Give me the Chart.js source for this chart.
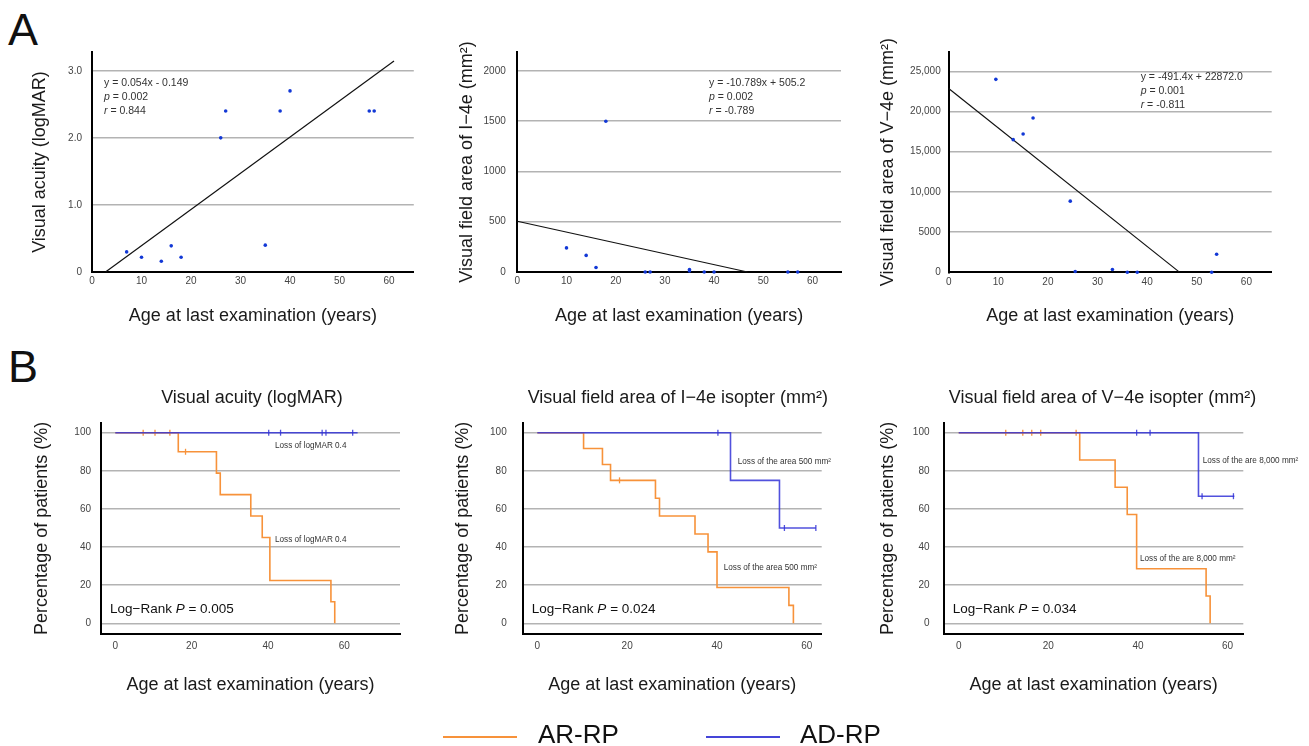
<!DOCTYPE html>
<html>
<head>
<meta charset="utf-8">
<script src="https://cdn.jsdelivr.net/npm/chart.js@4"></script>
<style>
  body { margin: 0; background: #fff; }
  #wrap { position: relative; width: 1309px; height: 746px; overflow: hidden; font-family: "Liberation Sans", Arial, sans-serif; }
  canvas { position: absolute; left: 0; top: 0; }
  .letter { position: absolute; left: 8px; font-size: 45px; line-height: 45px; color: #111; }
  .key { position: absolute; font-size: 26px; line-height: 26px; color: #111; }
  .swatch { position: absolute; height: 2px; }
</style>
</head>
<body>
<div id="wrap">
  <div class="letter" style="top:7px">A</div>
  <div class="letter" style="top:344px">B</div>
  <canvas id="a1" width="1309" height="746"></canvas>
  <canvas id="a2" width="1309" height="746"></canvas>
  <canvas id="a3" width="1309" height="746"></canvas>
  <canvas id="b1" width="1309" height="746"></canvas>
  <canvas id="b2" width="1309" height="746"></canvas>
  <canvas id="b3" width="1309" height="746"></canvas>
  <div class="swatch" style="left:443px;top:736px;width:74px;background:#f7923a"></div>
  <div class="key" style="left:538px;top:721px">AR-RP</div>
  <div class="swatch" style="left:706px;top:736px;width:74px;background:#4545d8"></div>
  <div class="key" style="left:800px;top:721px">AD-RP</div>
</div>
<script>
// A: values at last examination
const vaAge = [7, 10, 14, 16, 18, 26, 27, 35, 38, 40, 56, 57];
const vaLogMAR = [0.3, 0.22, 0.16, 0.39, 0.22, 2.0, 2.4, 0.4, 2.4, 2.7, 2.4, 2.4];
const i4eAge = [10, 14, 16, 18, 26, 27, 35, 35, 38, 40, 55, 57];
const i4eArea = [240, 165, 45, 1500, 0, 0, 25, 10, 0, 0, 0, 0];
const v4eAge = [9.5, 13, 15, 17, 24.5, 25.5, 33, 36, 38, 53, 54];
const v4eArea = [24000, 16500, 17200, 19200, 8850, 100, 350, 0, 0, 0, 2250];

// regression: [slope, intercept] and drawn x range
const vaFit = [0.054, -0.149];
const i4eFit = [-10.789, 505.2];
const v4eFit = [-491.4, 22872.0];
const vaFitX = [2.8, 61];
const i4eFitX = [0, 46.8];
const v4eFitX = [0, 46.5];

// B: Kaplan-Meier steps (age, % remaining) and censored cases
const vaArTime = [0, 16.5, 26.5, 27.5, 35.5, 38.5, 40.5, 56.5, 57.5];
const vaArPct = [100, 90, 78.8, 67.5, 56.3, 45, 22.5, 11.3, 0];
const vaArCensAge = [7.3, 10.4, 14.3, 18.4];
const vaArCensPct = [100, 100, 100, 90];
const vaAdTime = [0, 63.5];
const vaAdPct = [100, 100];
const vaAdCensAge = [40.2, 43.3, 54.2, 55.2, 62.2];
const vaAdCensPct = [100, 100, 100, 100, 100];

const i4eArTime = [0, 10.3, 14.5, 16.3, 26.3, 27.2, 35.1, 38, 40, 56, 57];
const i4eArPct = [100, 91.7, 83.3, 75, 65.6, 56.3, 46.9, 37.5, 18.8, 9.4, 0];
const i4eArCensAge = [18.3];
const i4eArCensPct = [75];
const i4eAdTime = [0, 43, 53.9, 62];
const i4eAdPct = [100, 75, 50, 50];
const i4eAdCensAge = [40.2, 55, 62];
const i4eAdCensPct = [100, 50, 50];

const v4eArTime = [0, 27, 34.9, 37.6, 39.7, 55.2, 56.1];
const v4eArPct = [100, 85.7, 71.4, 57.1, 28.6, 14.3, 0];
const v4eArCensAge = [10.5, 14.3, 16.3, 18.3, 26.2];
const v4eArCensPct = [100, 100, 100, 100, 100];
const v4eAdTime = [0, 53.5, 61.5];
const v4eAdPct = [100, 66.7, 66.7];
const v4eAdCensAge = [39.7, 42.7, 54.3, 61.3];
const v4eAdCensPct = [100, 100, 66.7, 66.7];

// ticks
const ageTicksA = [0, 10, 20, 30, 40, 50, 60];
const ageTicksB = [0, 20, 40, 60];
const vaTicks = [0, 1, 2, 3];
const vaTickLabels = ["0", "1.0", "2.0", "3.0"];
const i4eTicks = [0, 500, 1000, 1500, 2000];
const i4eTickLabels = ["0", "500", "1000", "1500", "2000"];
const v4eTicks = [0, 5000, 10000, 15000, 20000, 25000];
const v4eTickLabels = ["0", "5000", "10,000", "15,000", "20,000", "25,000"];
const pctTicks = [0, 20, 40, 60, 80, 100];
const pctTickLabels = ["0", "20", "40", "60", "80", "100"];

const W = 1309, H = 746;
const FONT = '"Liberation Sans", Arial, sans-serif';
const ORANGE = "#f7923a";
const BLUE = "rgba(50, 50, 215, 0.85)";
const DOT = "#1238d6";

Chart.defaults.font.family = FONT;
Chart.defaults.color = "#333";

const pts = (xs, ys) => xs.map((x, i) => ({ x: x, y: ys[i] }));
const fitLine = (f, xr) => xr.map(x => ({ x: x, y: f[0] * x + f[1] }));

const notesPlugin = {
	id: "notes",
	afterDraw(chart, args, opts) {
		const ctx = chart.ctx;
		(opts.items || []).forEach(it => {
			const parts = Array.isArray(it.text) ? it.text : [{ t: it.text }];
			const font = p => (p.i ? "italic " : "") + it.size + "px " + FONT;
			ctx.save();
			ctx.fillStyle = it.color || "#333";
			ctx.textBaseline = "middle";
			ctx.textAlign = "left";
			let w = 0;
			parts.forEach(p => { ctx.font = font(p); w += ctx.measureText(p.t).width; });
			let x = it.center ? it.x - w / 2 : it.x;
			parts.forEach(p => {
				ctx.font = font(p);
				ctx.fillText(p.t, x, it.y);
				x += ctx.measureText(p.t).width;
			});
			ctx.restore();
		});
	},
};

function panel(id, c) {
	const b = c.box;
	return new Chart(document.getElementById(id), {
		type: "scatter",
		data: { datasets: c.datasets },
		options: {
			responsive: false,
			animation: false,
			events: [],
			layout: {
				autoPadding: false,
				padding: { left: b.l - c.yw, top: b.t, right: W - b.r, bottom: H - b.b - c.xh },
			},
			plugins: {
				legend: { display: false },
				tooltip: { enabled: false },
				notes: { items: c.notes },
			},
			scales: {
				x: {
					type: "linear",
					min: c.xr[0],
					max: c.xr[1],
					afterBuildTicks: s => { s.ticks = c.xTicks.map(v => ({ value: v })); },
					afterFit: s => { s.height = c.xh; },
					grid: { display: false, drawTicks: false },
					border: { color: "#000", width: 2 },
					ticks: { font: { size: 10 }, color: "#444", padding: c.xPad, autoSkip: false, maxRotation: 0 },
					title: { display: true, text: "Age at last examination (years)", font: { size: 18 }, color: "#1a1a1a", padding: 0 },
				},
				y: {
					type: "linear",
					min: c.yr[0],
					max: c.yr[1],
					afterBuildTicks: s => { s.ticks = c.yTicks.map(v => ({ value: v })); },
					afterFit: s => { s.width = c.yw; },
					grid: {
						drawTicks: false,
						lineWidth: 1.5,
						color: ctx => (c.hideZero && ctx.tick && ctx.tick.value === 0 ? "rgba(0,0,0,0)" : "#b3b3b3"),
					},
					border: { color: "#000", width: 2 },
					ticks: {
						font: { size: 10 },
						color: "#444",
						padding: c.yPad,
						autoSkip: false,
						callback: (v, i) => c.yLabels[i],
					},
					title: { display: true, text: c.yTitle, font: { size: 18 }, color: "#1a1a1a", padding: 0 },
				},
			},
		},
		plugins: [notesPlugin],
	});
}

function scatterSets(xs, ys, fit, fitX) {
	return [
		{ data: pts(xs, ys), pointRadius: 1.8, pointBackgroundColor: DOT, pointBorderWidth: 0, clip: false },
		{ type: "line", data: fitLine(fit, fitX), borderColor: "#111", borderWidth: 1.2, pointRadius: 0, clip: false },
	];
}

function kmSets(adT, adP, adCx, adCy, arT, arP, arCx, arCy) {
	const cens = (xs, ys, col) => ({
		data: pts(xs, ys), pointStyle: "line", rotation: 90, pointRadius: 3,
		borderColor: col, pointBorderColor: col, pointBorderWidth: 1.3, clip: false,
	});
	const step = (xs, ys, col) => ({
		type: "line", data: pts(xs, ys), stepped: true, borderColor: col,
		borderWidth: 1.6, pointRadius: 0, fill: false, clip: false,
	});
	return [
		cens(adCx, adCy, BLUE), step(adT, adP, BLUE),
		cens(arCx, arCy, ORANGE), step(arT, arP, ORANGE),
	];
}

const fitNotes = (x, y0, eq, p, r) => [
	{ x: x, y: y0, size: 10.5, text: eq },
	{ x: x, y: y0 + 14.2, size: 10.5, text: [{ t: "p", i: true }, { t: " = " + p }] },
	{ x: x, y: y0 + 28.3, size: 10.5, text: [{ t: "r", i: true }, { t: " = " + r }] },
];

const kmNotes = (title, tx, loss, ad, ar, lrx, pval) => [
	{ x: tx, y: 398, size: 18, color: "#1a1a1a", center: true, text: title },
	{ x: ad[0], y: ad[1], size: 8.2, text: loss },
	{ x: ar[0], y: ar[1], size: 8.2, text: loss },
	{ x: lrx, y: 609, size: 13.5, color: "#111", text: [{ t: "Log\u2212Rank " }, { t: "P", i: true }, { t: " = " + pval }] },
];

panel("a1", {
	box: { l: 92, t: 52, r: 413.8, b: 272 }, xr: [0, 65], yr: [0, 3.28], yw: 62.8, xh: 55.3,
	xPad: 3.6, yPad: 10, hideZero: true,
	xTicks: ageTicksA, yTicks: vaTicks, yLabels: vaTickLabels,
	yTitle: "Visual acuity (logMAR)",
	datasets: scatterSets(vaAge, vaLogMAR, vaFit, vaFitX),
	notes: fitNotes(104, 82.7, "y = 0.054x - 0.149", "0.002", "0.844"),
});

panel("a2", {
	box: { l: 517.3, t: 52, r: 841, b: 272 }, xr: [0, 65.8], yr: [0, 2189], yw: 60.6, xh: 55.3,
	xPad: 3.6, yPad: 11.5, hideZero: true,
	xTicks: ageTicksA, yTicks: i4eTicks, yLabels: i4eTickLabels,
	yTitle: "Visual field area of I\u22124e (mm\u00b2)",
	datasets: scatterSets(i4eAge, i4eArea, i4eFit, i4eFitX),
	notes: fitNotes(709, 82.7, "y = -10.789x + 505.2", "0.002", "-0.789"),
});

panel("a3", {
	box: { l: 948.7, t: 52, r: 1271.7, b: 272.3 }, xr: [0, 65.1], yr: [0, 27400], yw: 71.5, xh: 55,
	xPad: 3.6, yPad: 8, hideZero: true,
	xTicks: ageTicksA, yTicks: v4eTicks, yLabels: v4eTickLabels,
	yTitle: "Visual field area of V\u22124e (mm\u00b2)",
	datasets: scatterSets(v4eAge, v4eArea, v4eFit, v4eFitX),
	notes: fitNotes(1140.7, 76.7, "y = -491.4x + 22872.0", "0.001", "-0.811"),
});

panel("b1", {
	box: { l: 101, t: 422.7, r: 400, b: 634 }, xr: [-3.75, 74.6], yr: [-5.6, 105.25], yw: 69.8, xh: 61.8,
	xPad: 6.3, yPad: 10,
	xTicks: ageTicksB, yTicks: pctTicks, yLabels: pctTickLabels,
	yTitle: "Percentage of patients (%)",
	datasets: kmSets(vaAdTime, vaAdPct, vaAdCensAge, vaAdCensPct, vaArTime, vaArPct, vaArCensAge, vaArCensPct),
	notes: kmNotes("Visual acuity (logMAR)", 252, "Loss of logMAR 0.4", [275, 445.7], [275, 540], 110, "0.005"),
});

panel("b2", {
	box: { l: 522.7, t: 422.7, r: 821.7, b: 634 }, xr: [-3.25, 63.3], yr: [-5.6, 105.25], yw: 70.5, xh: 61.8,
	xPad: 6.3, yPad: 16,
	xTicks: ageTicksB, yTicks: pctTicks, yLabels: pctTickLabels,
	yTitle: "Percentage of patients (%)",
	datasets: kmSets(i4eAdTime, i4eAdPct, i4eAdCensAge, i4eAdCensPct, i4eArTime, i4eArPct, i4eArCensAge, i4eArCensPct),
	notes: kmNotes("Visual field area of I\u22124e isopter (mm\u00b2)", 677.8, "Loss of the area 500 mm\u00b2", [737.7, 461.7], [723.7, 567.7], 531.7, "0.024"),
});

panel("b3", {
	box: { l: 944, t: 422.7, r: 1243.3, b: 634 }, xr: [-3.28, 63.5], yr: [-5.6, 105.25], yw: 66.8, xh: 61.8,
	xPad: 6.3, yPad: 14.5,
	xTicks: ageTicksB, yTicks: pctTicks, yLabels: pctTickLabels,
	yTitle: "Percentage of patients (%)",
	datasets: kmSets(v4eAdTime, v4eAdPct, v4eAdCensAge, v4eAdCensPct, v4eArTime, v4eArPct, v4eArCensAge, v4eArCensPct),
	notes: kmNotes("Visual field area of V\u22124e isopter (mm\u00b2)", 1102.5, "Loss of the are 8,000 mm\u00b2", [1202.7, 460.7], [1140, 559], 952.7, "0.034"),
});
</script>
</body>
</html>
